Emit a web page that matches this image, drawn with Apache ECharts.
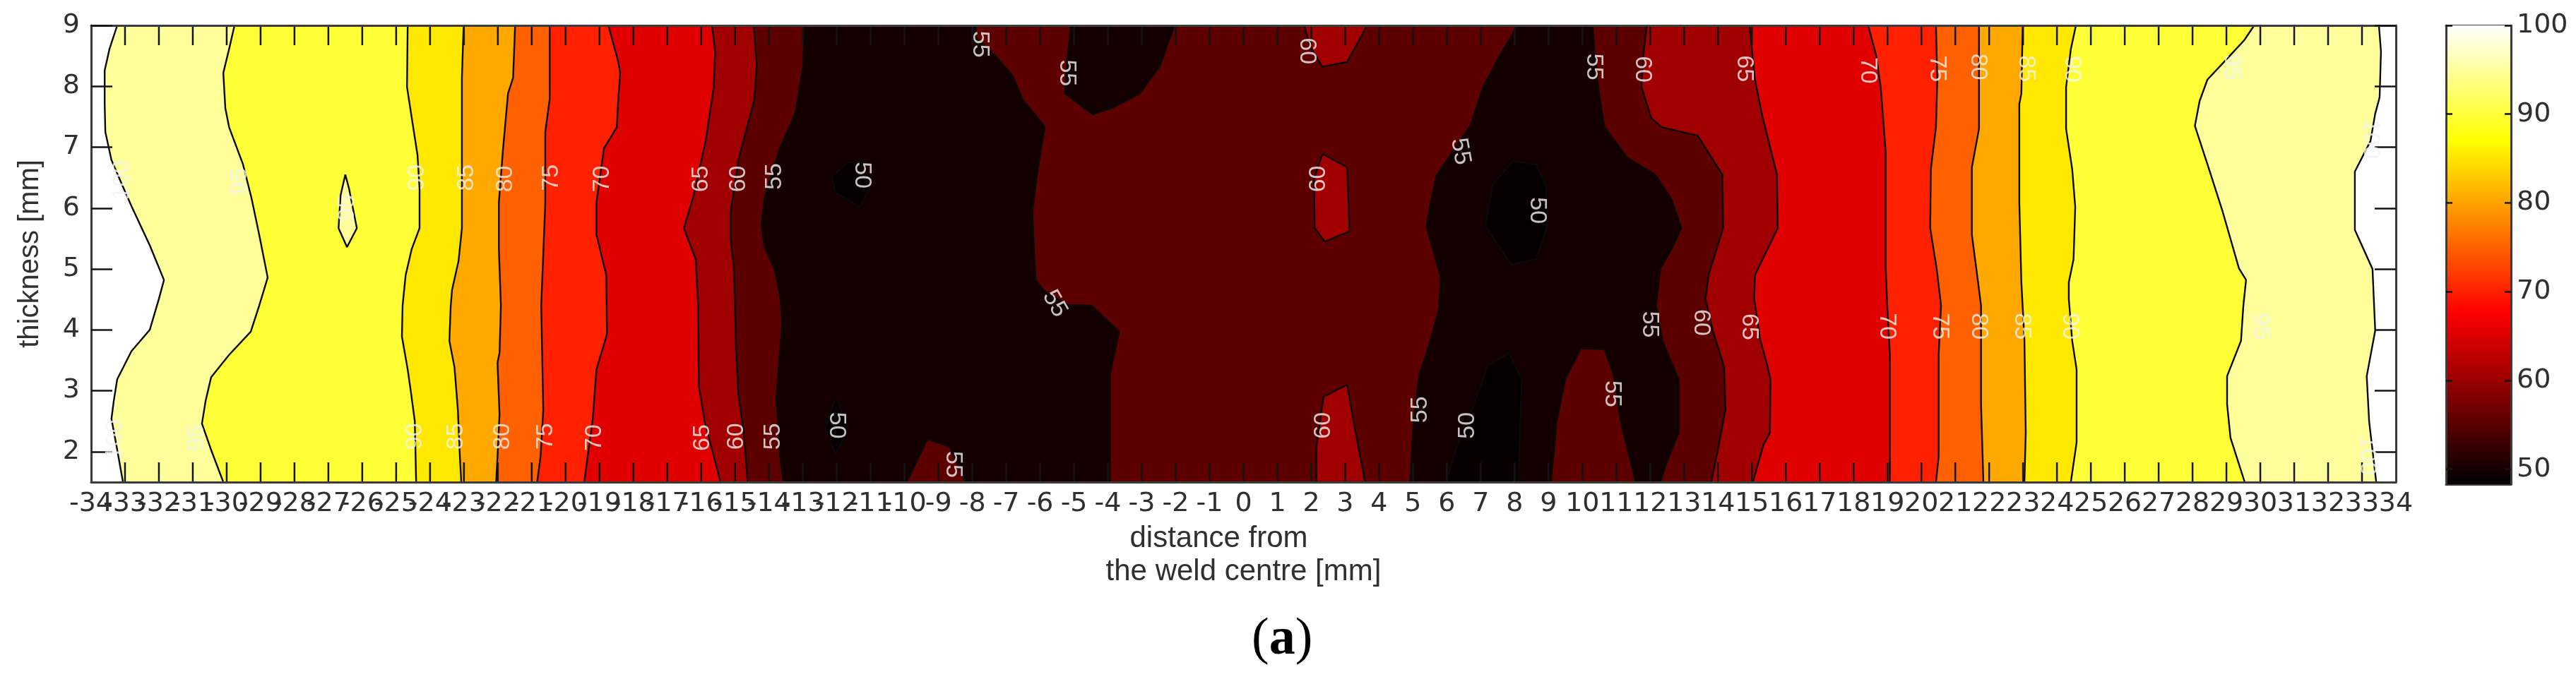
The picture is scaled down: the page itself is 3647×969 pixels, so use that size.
<!DOCTYPE html>
<html>
<head>
<meta charset="utf-8">
<title>weld hardness map</title>
<style>
html, body { margin: 0; background: #fff; }
#chart { width: 3647px; height: 969px; }
</style>
<script src="https://cdn.jsdelivr.net/npm/echarts@6/dist/echarts.min.js"></script>
</head>
<body>
<div id="chart"></div>
<script>
// tick labels
const distanceTicks = [-33,-32,-31,-30,-29,-28,-27,-26,-25,-24,-23,-22,-21,-20,-19,-18,-17,-16,-15,-14,-13,-12,-11,-10,-9,-8,-7,-6,-5,-4,-3,-2,-1,0,1,2,3,4,5,6,7,8,9,10,11,12,13,14,15,16,17,18,19,20,21,22,23,24,25,26,27,28,29,30,31,32,33];
const distanceEndTicks = [-34, 34];
const thicknessTicks = [2, 3, 4, 5, 6, 7, 8, 9];
const colorbarTicks = [50, 60, 70, 80, 90, 100];

// colorbar (hot map) stops
const colorbarValues = [48.3, 67.7, 87, 100];
const colorbarColors = ['#000000', '#ff0000', '#ffff00', '#ffffff'];

// contour lines, [distance, thickness]
const left100 = [[-33.23,9],[-33.46,8.61],[-33.6,8.26],[-33.6,7.71],[-33.58,7.25],[-33.4,6.79],[-33.1,6.4],[-32.8,6.02],[-32.27,5.39],[-31.85,4.82],[-32,4.51],[-32.27,4],[-32.81,3.65],[-33.23,3.19],[-33.33,2.84],[-33.4,2.54],[-33.23,2.03],[-33.06,1.5]];
const left95 = [[-29.77,9],[-29.93,8.61],[-30.1,8.22],[-30.04,7.64],[-29.93,7.33],[-29.52,6.72],[-29.27,6.17],[-29.04,5.56],[-28.79,4.86],[-29.04,4.4],[-29.29,3.97],[-29.93,3.59],[-30.46,3.22],[-30.62,2.84],[-30.73,2.46],[-30.46,2.03],[-30.1,1.5]];
const left90 = [[-24.66,9],[-24.68,7.99],[-24.54,7.48],[-24.37,6.87],[-24.31,6.32],[-24.31,5.67],[-24.54,5.33],[-24.72,4.9],[-24.81,4.4],[-24.83,3.89],[-24.66,3.35],[-24.56,2.96],[-24.45,2.5],[-24.41,1.5]];
const left85 = [[-23.01,9],[-23.06,8.14],[-23.06,6.29],[-23.06,5.67],[-23.16,5.13],[-23.35,4.66],[-23.39,4.4],[-23.43,3.82],[-23.28,3.39],[-23.18,2.69],[-23.12,1.92],[-23.08,1.5]];
const left80 = [[-21.49,9],[-21.55,8.14],[-21.7,7.88],[-21.85,6.95],[-21.97,6.09],[-21.97,5.33],[-21.91,4.4],[-21.95,3.62],[-22.01,3.46],[-21.95,2.61],[-22.01,1.92],[-22.05,1.5]];
const left75 = [[-20.47,9],[-20.47,7.79],[-20.6,7.25],[-20.6,6.09],[-20.66,5.24],[-20.72,4.4],[-20.66,2.69],[-20.74,1.92],[-20.84,1.5]];
const left70 = [[-18.74,9],[-18.45,8.41],[-18.39,8.22],[-18.45,7.76],[-18.49,7.33],[-18.87,6.98],[-19.09,6.09],[-19.09,5.56],[-18.8,4.9],[-18.78,3.93],[-19.09,3.35],[-19.2,2.54],[-19.35,1.92],[-19.45,1.5]];
const left65 = [[-15.68,9],[-15.59,8.57],[-15.63,7.99],[-15.86,7.13],[-16.22,6.21],[-16.51,5.67],[-16.16,5.16],[-16.09,4.4],[-16.07,3.08],[-15.9,2.5],[-15.43,1.5]];
const left60 = [[-14.45,9],[-14.36,8.34],[-14.43,7.79],[-14.9,6.79],[-15.13,5.94],[-15.13,5.48],[-15.03,4.98],[-14.97,3.66],[-14.9,2.93],[-14.74,2.31],[-14.63,1.5]];
const left55 = [[-12.95,9],[-12.99,8.34],[-13.22,7.56],[-13.7,6.95],[-14.13,6.17],[-14.22,5.71],[-14.13,5.36],[-13.84,5.01],[-13.67,4.55],[-13.61,4.12],[-13.67,3.66],[-13.78,2.89],[-13.67,1.92],[-13.57,1.5]];
const centre55Left = [[-7.9,9],[-7.9,8.8],[-7.3,8.49],[-6.82,8.18],[-6.52,7.79],[-5.86,7.33],[-5.98,6.95],[-6.11,6.48],[-6.23,5.94],[-6.17,5.16],[-6.13,4.82],[-5.86,4.63],[-5.17,4.41],[-4.48,4.4],[-4.11,4.2],[-3.67,3.97],[-3.77,3.7],[-3.94,3.27],[-3.94,1.5]];
const bump55Left = [[-9.94,1.5],[-9.32,2.21],[-8.67,2.08],[-8.19,1.5]];
const pocket55 = [[-5.09,9],[-5.21,8.37],[-5.27,7.88],[-4.44,7.54],[-3.9,7.64],[-3.06,7.88],[-2.46,8.34],[-2.04,9]];
const centre55Right = [[8.09,9],[7.67,8.61],[7.07,7.99],[6.71,7.37],[5.92,6.72],[5.69,6.53],[5.5,6.02],[5.4,5.71],[5.57,5.36],[5.82,4.86],[5.77,4.35],[5.57,3.93],[5.4,3.62],[5.19,3.27],[5.02,2.5],[4.92,1.5]];
const right55 = [[10.3,9],[10.36,8.52],[10.49,7.88],[10.65,7.33],[11.32,6.83],[12.15,6.55],[12.63,6.14],[12.92,5.67],[12.63,5.33],[12.3,5.01],[12.17,4.4],[12.36,3.82],[12.84,3.19],[12.84,2.31],[12.47,1.8],[12.3,1.5]];
const bump55Right = [[9.07,1.5],[9.24,2.5],[9.49,3.19],[9.96,3.7],[10.65,3.68],[10.92,3.27],[11.13,2.5],[11.57,1.5]];
const right60 = [[11.9,9],[11.8,8.52],[11.74,7.99],[12.03,7.48],[12.34,7.33],[13.4,7.19],[14.13,6.55],[14.15,5.67],[13.72,4.9],[13.63,4.51],[13.84,4],[14.18,3.39],[14.22,2.69],[13.97,1.96],[13.8,1.5]];
const right65 = [[14.93,9],[15.09,8.11],[15.32,7.48],[15.74,6.55],[15.76,5.67],[15.09,4.9],[15.07,4.51],[15.24,3.85],[15.43,3.47],[15.55,3.19],[15.53,2.31],[15.34,2.11],[15.03,1.5]];
const right70 = [[18.43,9],[18.66,8.52],[18.8,7.99],[18.95,6.9],[18.95,5.01],[18.99,4.43],[19.07,3.59],[19.07,1.5]];
const right75 = [[20.43,9],[20.47,8.11],[20.43,7.33],[20.28,6.64],[20.26,5.67],[20.45,5.01],[20.58,4.4],[20.51,3.59],[20.51,1.92],[20.43,1.5]];
const right80 = [[21.7,9],[21.7,7.3],[21.49,6.67],[21.49,5.56],[21.62,5.01],[21.76,4.4],[21.76,2.78],[21.83,1.5]];
const right85 = [[22.99,9],[22.95,7.88],[22.89,7.71],[22.89,6.09],[22.95,4.78],[23.04,3.85],[23.08,2.31],[23.04,1.5]];
const right90 = [[24.56,9],[24.41,8.61],[24.27,7.99],[24.27,7.3],[24.45,6.64],[24.54,6.02],[24.49,5.16],[24.35,4.78],[24.35,4.51],[24.45,3.82],[24.58,3.35],[24.58,2.15],[24.41,1.5]];
const right95 = [[29.82,9],[29.53,8.76],[29.03,8.46],[28.44,8.11],[28.21,7.76],[28.07,7.35],[28.44,6.72],[28.89,5.94],[29.37,5.01],[29.58,4.82],[29.5,4.4],[29.43,3.82],[29.02,3.24],[29.02,2.78],[29.12,2.23],[29.54,1.5]];
const right100 = [[33.5,9],[33.56,8.57],[33.52,7.82],[33.39,7.55],[33.25,7.1],[32.79,6.6],[32.79,5.64],[33.31,5],[33.39,3.99],[33.14,3.24],[33.21,2.5],[33.42,1.5]];

// closed islands
const island95 = [[-26.5,6.55],[-26.39,6.32],[-26.16,5.67],[-26.45,5.36],[-26.7,5.67],[-26.64,6.21],[-26.5,6.55]];
const island60Top = [[1.79,9],[1.98,8.64],[2.33,8.32],[3.06,8.4],[3.65,9]];
const island60Mid = [[2.33,6.89],[3.06,6.67],[3.13,5.62],[2.4,5.45],[2.1,5.67],[2.08,6.48],[2.33,6.89]];
const island60Low = [[3.06,3.1],[2.36,2.9],[2.15,2.08],[2.15,1.5],[3.59,1.5],[3.31,2.31],[3.06,3.1]];
const island50LeftA = [[-11.67,6.75],[-12.15,6.52],[-12.03,6.25],[-11.32,6.02],[-11.01,6.37],[-11.3,6.75],[-11.67,6.75]];
const island50LeftB = [[-12.03,2.9],[-11.65,2.38],[-12.03,1.96],[-12.34,2.38],[-12.03,2.9]];
const island50Mid = [[7.96,6.77],[8.63,6.72],[8.92,6.37],[8.98,5.74],[8.63,5.16],[7.9,5.07],[7.13,5.71],[7.36,6.4],[7.96,6.77]];
const island50Low = [[7.84,3.62],[7.21,3.42],[6.84,2.84],[6.3,2.08],[5.98,1.5],[8.11,1.5],[8.21,3.19],[7.84,3.62]];

// contour labels: distance, thickness, text
const labelDistance = [-33.1,-29.62,-26.45,-24.37,-22.93,-21.78,-20.41,-18.93,-16.01,-14.9,-13.84,-11.26,-7.78,-5.21,-5.57,1.88,2.21,6.4,8.67,10.34,11.78,14.78,18.41,20.47,21.68,23.08,24.45,29.16,33.25,-33.29,-30.89,-24.45,-23.24,-21.85,-20.58,-19.14,-15.97,-14.95,-13.88,-12.01,-8.57,2.36,5.21,6.61,10.88,11.99,13.51,14.91,18.99,20.55,21.7,22.97,24.37,30,33.15];
const labelThickness = [6.46,6.44,6,6.5,6.5,6.48,6.5,6.48,6.48,6.48,6.52,6.54,8.69,8.22,4.43,8.58,6.48,6.93,5.96,8.32,8.28,8.29,8.26,8.29,8.32,8.29,8.28,8.32,7.13,2.2,2.23,2.25,2.25,2.25,2.25,2.23,2.23,2.25,2.25,2.43,1.79,2.43,2.69,2.43,2.95,4.09,4.12,4.05,4.06,4.06,4.06,4.06,4.06,4.06,1.94];
const labelText = ['100','95','95','90','85','80','75','70','65','60','55','50','55','55','55','60','60','55','50','55','60','65','70','75','80','85','90','95','100','100','95','90','85','80','75','70','65','60','55','50','55','60','55','50','55','55','60','65','70','75','80','85','90','95','100'];
const labelRotate = [90,90,90,90,90,90,90,90,90,90,90,-90,-90,-90,-60,-90,90,-80,-90,-90,-90,-90,-90,-90,-90,-90,-90,-90,-90,90,90,90,90,90,90,90,90,90,90,-90,-90,90,90,90,-90,-90,-90,-90,-90,-90,-90,-90,-90,-90,-90];

// filled regions, painted back to front
const bandPaths = [
    left100.concat(right100.slice().reverse()),
    left95.concat(right95.slice().reverse()),
    left90.concat(right90.slice().reverse()),
    left85.concat(right85.slice().reverse()),
    left80.concat(right80.slice().reverse()),
    left75.concat(right75.slice().reverse()),
    left70.concat(right70.slice().reverse()),
    left65.concat(right65.slice().reverse()),
    left60.concat(right60.slice().reverse()),
    island95, island60Top, island60Mid, island60Low,
    left55.concat(centre55Left.slice().reverse()),
    centre55Right.concat(right55.slice().reverse()),
    pocket55,
    bump55Left, bump55Right,
    island50LeftA, island50LeftB, island50Mid, island50Low
];
const bandColors = [
    '#ffff9c', '#ffff38', '#ffe800', '#ffa800', '#ff6000', '#ff2000', '#e00000', '#a00000', '#5c0000',
    '#ffff9c', '#a00000', '#a00000', '#a00000',
    '#140000', '#140000', '#140000',
    '#5c0000', '#5c0000',
    '#070000', '#070000', '#070000', '#070000'
];
const contourPaths = [
    left100, left95, left90, left85, left80, left75, left70, left65, left60, left55,
    centre55Left, bump55Left, pocket55, centre55Right, right55, bump55Right,
    right60, right65, right70, right75, right80, right85, right90, right95, right100,
    island95, island60Top, island60Mid, island60Low,
    island50LeftA, island50LeftB, island50Mid, island50Low
];

const axisColor = '#3c3c3c';
const textColor = '#303030';
const tickColor = '#141414';
const tickFont = { fontFamily: 'DejaVu Sans', fontSize: 38, color: textColor };
const frameLine = { show: true, onZero: false, lineStyle: { color: axisColor, width: 3 } };

const chart = echarts.init(document.getElementById('chart'));

const lineSeries = contourPaths.map((path) => ({
    type: 'line',
    data: path,
    xAxisIndex: 0,
    yAxisIndex: 0,
    showSymbol: false,
    silent: true,
    z: 2,
    lineStyle: { color: '#0a0a0a', width: 2.4 }
}));

chart.setOption({
    animation: false,
    backgroundColor: '#fff',
    grid: [
        { left: 129, top: 36, width: 3263, height: 647 },
        { left: 3463, top: 36, width: 92, height: 650 }
    ],
    xAxis: [
        {
            type: 'value', gridIndex: 0, min: -34, max: 34, interval: 1, position: 'bottom', z: 3,
            axisLine: frameLine,
            axisTick: { show: false },
            axisLabel: Object.assign({ margin: 12, hideOverlap: false, showMinLabel: false, showMaxLabel: false }, tickFont),
            splitLine: { show: false },
            name: 'distance from      \nthe weld centre [mm]',
            nameLocation: 'middle',
            nameGap: 57,
            nameTextStyle: { fontFamily: 'Liberation Sans', fontSize: 42, lineHeight: 47, color: textColor }
        },
        {
            type: 'value', gridIndex: 0, min: -34, max: 34, interval: 1, position: 'top', z: 3,
            axisLine: frameLine,
            axisTick: { show: false },
            axisLabel: { show: false },
            splitLine: { show: false }
        },
        {
            // end labels only, the main axis drops a neighbour when they overlap
            type: 'value', gridIndex: 0, min: -34, max: 34, position: 'bottom', z: 3,
            axisLine: { show: false, onZero: false },
            axisTick: { show: false },
            axisLabel: Object.assign({ margin: 12, customValues: distanceEndTicks }, tickFont),
            splitLine: { show: false }
        },
        {
            type: 'value', gridIndex: 1, min: 0, max: 1, position: 'bottom',
            axisLine: frameLine,
            axisTick: { show: false }, axisLabel: { show: false }, splitLine: { show: false }
        },
        {
            type: 'value', gridIndex: 1, min: 0, max: 1, position: 'top',
            axisLine: frameLine,
            axisTick: { show: false }, axisLabel: { show: false }, splitLine: { show: false }
        }
    ],
    yAxis: [
        {
            type: 'value', gridIndex: 0, min: 1.5, max: 9, position: 'left', z: 3,
            axisLine: frameLine,
            axisTick: { show: true, inside: true, length: 30, customValues: thicknessTicks, lineStyle: { color: tickColor, width: 2.5 } },
            axisLabel: Object.assign({ margin: 16, customValues: thicknessTicks }, tickFont),
            splitLine: { show: false },
            name: 'thickness [mm]',
            nameLocation: 'middle',
            nameGap: 66,
            nameTextStyle: { fontFamily: 'Liberation Sans', fontSize: 40, color: textColor }
        },
        {
            type: 'value', gridIndex: 0, min: 1.5, max: 9, position: 'right', z: 3,
            axisLine: frameLine,
            axisTick: { show: true, inside: true, length: 30, customValues: thicknessTicks, lineStyle: { color: tickColor, width: 2.5 } },
            axisLabel: { show: false },
            splitLine: { show: false }
        },
        {
            type: 'value', gridIndex: 1, min: 48.3, max: 100, position: 'left', z: 3,
            axisLine: frameLine,
            axisTick: { show: true, inside: true, length: 9, customValues: colorbarTicks, lineStyle: { color: tickColor, width: 2.5 } },
            axisLabel: { show: false },
            splitLine: { show: false }
        },
        {
            type: 'value', gridIndex: 1, min: 48.3, max: 100, position: 'right', z: 3,
            axisLine: frameLine,
            axisTick: { show: true, inside: true, length: 9, customValues: colorbarTicks, lineStyle: { color: tickColor, width: 2.5 } },
            axisLabel: Object.assign({ margin: 8, customValues: colorbarTicks }, tickFont),
            splitLine: { show: false }
        }
    ],
    series: [
        {
            type: 'custom',
            xAxisIndex: 0,
            yAxisIndex: 0,
            clip: true,
            silent: true,
            z: 1,
            data: bandPaths.map((path, i) => [i]),
            renderItem(params, api) {
                const i = api.value(0);
                return {
                    type: 'polygon',
                    shape: { points: bandPaths[i].map((p) => api.coord(p)) },
                    style: { fill: bandColors[i] }
                };
            }
        },
        ...lineSeries,
        {
            // distance ticks, top and bottom, pointing into the plot
            type: 'custom',
            xAxisIndex: 0,
            yAxisIndex: 0,
            silent: true,
            z: 3,
            data: distanceTicks.map((d) => [d]),
            renderItem(params, api) {
                const d = api.value(0);
                const low = api.coord([d, 1.5]);
                const high = api.coord([d, 9]);
                const stroke = { stroke: tickColor, lineWidth: 2.5 };
                return {
                    type: 'group',
                    children: [
                        { type: 'line', shape: { x1: low[0], y1: low[1], x2: low[0], y2: low[1] - 28 }, style: stroke },
                        { type: 'line', shape: { x1: high[0], y1: high[1], x2: high[0], y2: high[1] + 28 }, style: stroke }
                    ]
                };
            }
        },
        {
            type: 'scatter',
            xAxisIndex: 0,
            yAxisIndex: 0,
            silent: true,
            z: 5,
            symbolSize: 1,
            itemStyle: { color: 'transparent' },
            data: labelText.map((text, i) => ({
                value: [labelDistance[i], labelThickness[i]],
                label: {
                    show: true,
                    position: 'inside',
                    formatter: text,
                    rotate: labelRotate[i],
                    fontFamily: 'Liberation Sans',
                    fontSize: 34,
                    color: '#f4f4f4'
                }
            }))
        },
        {
            type: 'custom',
            xAxisIndex: 3,
            yAxisIndex: 2,
            silent: true,
            z: 1,
            data: [[0, colorbarValues[0], 1, colorbarValues[colorbarValues.length - 1]]],
            renderItem(params, api) {
                const a = api.coord([api.value(0), api.value(1)]);
                const b = api.coord([api.value(2), api.value(3)]);
                const span = colorbarValues[colorbarValues.length - 1] - colorbarValues[0];
                return {
                    type: 'rect',
                    shape: { x: a[0], y: b[1], width: b[0] - a[0], height: a[1] - b[1] },
                    style: {
                        fill: new echarts.graphic.LinearGradient(0, 1, 0, 0, colorbarValues.map((v, i) => ({
                            offset: (v - colorbarValues[0]) / span,
                            color: colorbarColors[i]
                        })))
                    }
                };
            }
        }
    ],
    graphic: [
        {
            type: 'text',
            left: 1772,
            top: 870,
            style: {
                text: '{p|(}{b|a}{p|)}',
                rich: {
                    p: { fontFamily: 'Liberation Serif', fontSize: 74, fill: '#000' },
                    b: { fontFamily: 'Liberation Serif', fontSize: 74, fontWeight: 'bold', fill: '#000' }
                }
            }
        }
    ]
});
</script>
</body>
</html>
